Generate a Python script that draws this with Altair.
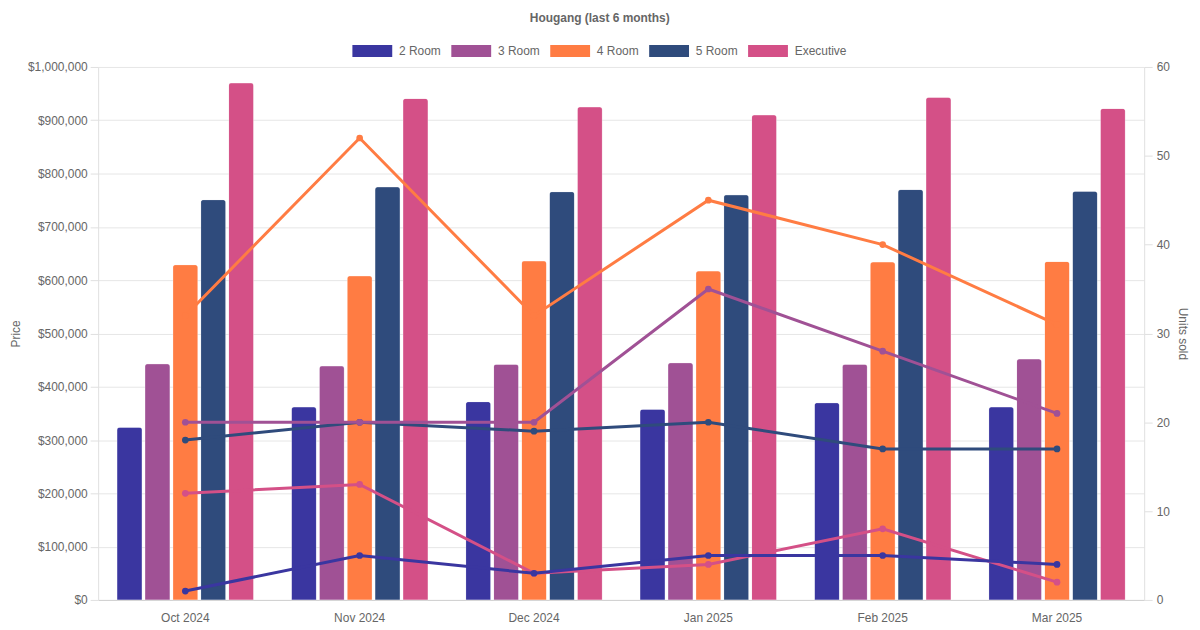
import altair as alt
import pandas as pd

months = ["Oct 2024", "Nov 2024", "Dec 2024", "Jan 2025", "Feb 2025", "Mar 2025"]
types = ["2 Room", "3 Room", "4 Room", "5 Room", "Executive"]
colors = ["#3a36a0", "#a05195", "#ff7c43", "#2f4b7c", "#d45087"]

price_2r = [324000, 362000, 372000, 358000, 370000, 362000]
price_3r = [443000, 439000, 442000, 445000, 442000, 452000]
price_4r = [629000, 608000, 636000, 617000, 634000, 635000]
price_5r = [751000, 775000, 766000, 760000, 770000, 767000]
price_ex = [970000, 941000, 925000, 910000, 943000, 922000]

units_2r = [1, 5, 3, 5, 5, 4]
units_3r = [20, 20, 20, 35, 28, 21]
units_4r = [32, 52, 32, 45, 40, 31]
units_5r = [18, 20, 19, 20, 17, 17]
units_ex = [12, 13, 3, 4, 8, 2]

prices = [price_2r, price_3r, price_4r, price_5r, price_ex]
units = [units_2r, units_3r, units_4r, units_5r, units_ex]

rows = []
for t, p, u in zip(types, prices, units):
    for m, pv, uv in zip(months, p, u):
        rows.append({"month": m, "type": t, "price": pv, "units": uv})
df = pd.DataFrame(rows)

FONT = "Liberation Sans"
GREY = "#666666"

x_enc = alt.X("month:N", sort=months,
              scale=alt.Scale(type="band", domain=months, paddingInner=0.2, paddingOuter=0.1),
              axis=alt.Axis(title=None, ticks=False, labelPadding=13, domainColor="#d0d0d0",
                            labelFont=FONT, labelFontSize=12, labelColor=GREY, labelAngle=0,
                            grid=False))

color_scale = alt.Scale(domain=types, range=colors)
legend_def = alt.Legend(title=None, orient="none", direction="horizontal",
                        legendX=269.2, legendY=-22,
                        symbolType="M-3.333,-1H3.333V1H-3.333Z", symbolSize=144,
                        symbolStrokeWidth=0, symbolOpacity=1,
                        labelFont=FONT, labelFontSize=12, labelColor=GREY,
                        labelOffset=20.8, columnPadding=10.3, padding=0)

base = alt.Chart(df)

bars = base.mark_bar(
    cornerRadiusTopLeft=3, cornerRadiusTopRight=3,
    stroke="white", strokeOpacity=0.25, strokeWidth=1,
).encode(
    x=x_enc,
    xOffset=alt.XOffset("type:N", sort=types,
                        scale=alt.Scale(domain=types, paddingInner=0.1, paddingOuter=0.05)),
    y=alt.Y("price:Q", scale=alt.Scale(domain=[0, 1000000], nice=False, zero=True),
            axis=alt.Axis(title="Price", orient="left",
                          values=[k * 100000 for k in range(11)], format="$,d",
                          grid=True, gridColor="#e6e6e6", domainColor="#e0e0e0",
                          tickColor="#e0e0e0", tickSize=8, labelPadding=3,
                          labelFont=FONT, labelFontSize=12, labelColor=GREY,
                          titleFont=FONT, titleFontSize=12, titleFontWeight="normal",
                          titleColor=GREY, titlePadding=5)),
    color=alt.Color("type:N", scale=color_scale, legend=legend_def),
)

layers = [bars]
for i in reversed(range(len(types))):
    t = types[i]
    c = colors[i]
    if i == 0:
        y_line_axis = alt.Axis(title="Units sold", orient="right", values=[0, 10, 20, 30, 40, 50, 60],
                               grid=False, domainColor="#e0e0e0", tickColor="#e0e0e0", tickSize=8,
                               labelPadding=4, labelFont=FONT, labelFontSize=12, labelColor=GREY,
                               titleFont=FONT, titleFontSize=12, titleFontWeight="normal",
                               titleColor=GREY, titlePadding=6, titleAngle=90)
    else:
        y_line_axis = None
    line = base.transform_filter(alt.datum.type == t).mark_line(
        strokeWidth=3, color=c,
        point=alt.OverlayMarkDef(filled=True, size=45, color=c, opacity=1),
    ).encode(
        x=x_enc,
        y=alt.Y("units:Q", scale=alt.Scale(domain=[0, 60], nice=False, zero=True),
                axis=y_line_axis),
    )
    layers.append(line)

chart = alt.layer(*layers).resolve_scale(y="independent").properties(
    width=1050, height=535,
    autosize=alt.AutoSizeParams(type="none"),
    padding={"left": 90.5, "top": 58, "right": 48, "bottom": 28},
    title=alt.TitleParams("Hougang (last 6 months)", anchor="middle", frame="group",
                          dx=-21.5, offset=20, font=FONT, fontSize=12, fontWeight="bold",
                          color=GREY),
).configure_view(stroke=None)

chart.save("out.html", embed_options={"renderer": "svg", "actions": False})
